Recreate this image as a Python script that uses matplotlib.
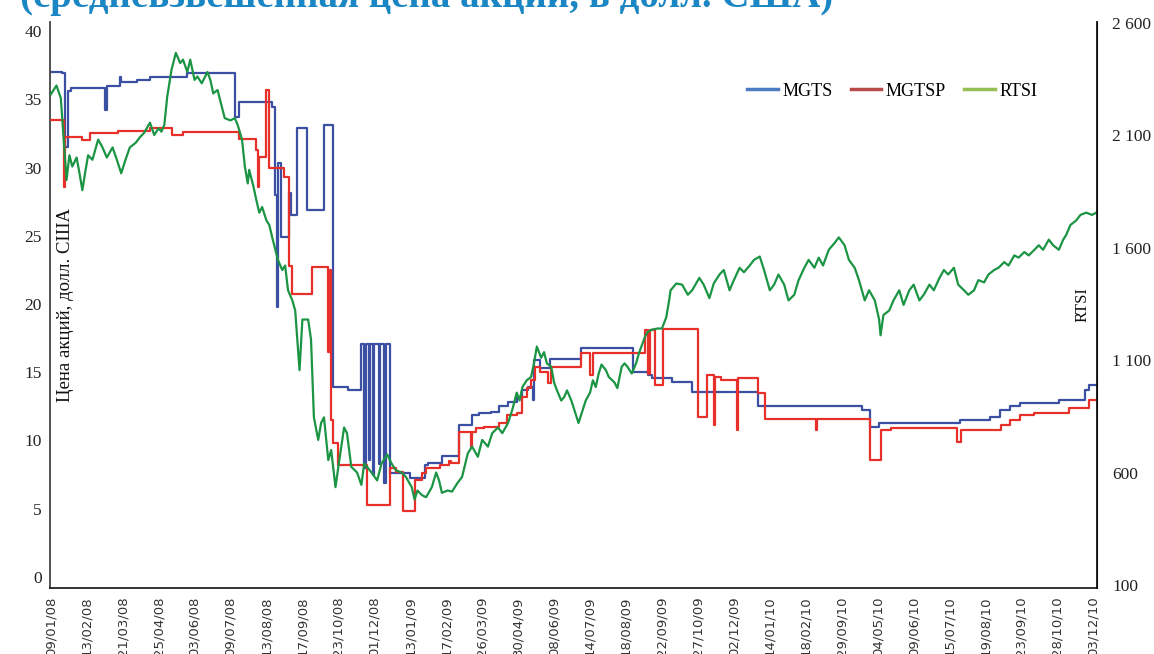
import numpy as np
import matplotlib
matplotlib.use("Agg")
import matplotlib.pyplot as plt
from matplotlib.lines import Line2D

# ---------------- data ----------------
x_labels = ["09/01/08", "13/02/08", "21/03/08", "25/04/08", "03/06/08", "09/07/08",
            "13/08/08", "17/09/08", "23/10/08", "01/12/08", "13/01/09", "17/02/09",
            "26/03/09", "30/04/09", "08/06/09", "14/07/09", "18/08/09", "22/09/09",
            "27/10/09", "02/12/09", "14/01/10", "18/02/10", "29/09/10", "04/05/10",
            "09/06/10", "15/07/10", "19/08/10", "23/09/10", "28/10/10", "03/12/10"]
label_step = 25          # trading days between labels
n_days = 728             # trading days in the period

# MGTS (left axis) - change points: trading-day index, price
mgts_idx = [0, 8, 10, 12, 14, 38, 39, 48, 49, 60, 69, 95, 128, 131, 154, 156, 157, 158,
            160, 166, 167, 171, 178, 190, 196, 207, 216, 218, 219, 221, 222, 224, 225,
            228, 229, 232, 233, 236, 250, 260, 262, 272, 284, 293, 298, 306, 312, 318,
            324, 328, 332, 335, 336, 340, 347, 369, 405, 415, 418, 432, 446, 492, 564,
            570, 576, 632, 653, 660, 667, 674, 701, 719, 722, 727]
mgts_val = [37.0, 36.9, 31.5, 35.6, 35.8, 34.2, 36.0, 36.6, 36.3, 36.4, 36.6, 36.9, 33.7,
            34.8, 34.4, 28.0, 19.8, 30.3, 24.9, 28.1, 26.5, 32.9, 26.9, 33.1, 13.9, 13.7,
            17.1, 8.0, 17.1, 8.6, 17.1, 7.5, 17.1, 8.3, 17.1, 6.9, 17.1, 7.6, 7.25, 8.2,
            8.35, 8.85, 11.1, 11.9, 12.0, 12.1, 12.5, 12.8, 13.2, 13.7, 13.9, 13.0, 15.9,
            15.3, 16.0, 16.8, 15.0, 14.8, 14.6, 14.3, 13.55, 12.5, 12.2, 11.0, 11.3, 11.5,
            11.7, 12.2, 12.5, 12.75, 13.0, 13.7, 14.1, 14.1]

# MGTSP (left axis) - change points
mgtsp_idx = [0, 9, 10, 22, 27, 47, 69, 84, 92, 131, 143, 144, 145, 150, 152, 162, 166,
             168, 182, 193, 194, 195, 196, 200, 220, 236, 240, 245, 253, 258, 261, 271,
             277, 278, 284, 292, 293, 296, 301, 312, 317, 324, 328, 331, 334, 337, 340,
             346, 348, 369, 375, 377, 413, 415, 417, 420, 426, 450, 456, 461, 462, 466,
             477, 478, 492, 497, 532, 533, 570, 577, 584, 630, 633, 661, 667, 674, 684,
             708, 722, 727]
mgtsp_val = [33.5, 28.6, 32.2, 32.0, 32.5, 32.7, 32.9, 32.4, 32.6, 32.1, 31.3, 28.6, 30.8,
             35.7, 30.0, 29.3, 22.8, 20.7, 22.7, 16.5, 22.5, 11.5, 9.8, 8.2, 5.3, 8.0, 7.7,
             4.8, 7.1, 7.6, 8.0, 8.2, 8.5, 8.35, 10.6, 9.5, 10.6, 10.9, 11.0, 11.3, 11.9,
             12.0, 13.2, 13.85, 14.4, 15.4, 15.0, 14.2, 15.4, 16.4, 14.8, 16.4, 18.1, 14.9,
             18.1, 14.1, 18.2, 11.7, 14.8, 11.1, 14.65, 14.4, 10.8, 14.6, 13.5, 11.6, 10.8,
             11.6, 8.6, 10.8, 10.9, 9.9, 10.8, 11.1, 11.5, 11.9, 12.0, 12.4, 13.0, 13.0]

# RTSI (right axis)
rtsi_idx = [0, 4, 7, 9, 11, 13, 15, 18, 20, 22, 24, 26, 29, 31, 33, 36, 39, 43, 46, 49,
            52, 55, 59, 62, 65, 69, 72, 75, 77, 79, 81, 84, 87, 90, 92, 95, 97, 100, 102,
            105, 109, 111, 113, 116, 119, 121, 125, 128, 130, 133, 135, 137, 138, 141, 143,
            145, 147, 150, 152, 154, 158, 161, 163, 165, 168, 170, 172, 173, 175, 179, 181,
            183, 186, 188, 190, 193, 195, 198, 201, 204, 206, 209, 213, 216, 218, 220, 223,
            227, 230, 234, 237, 240, 244, 247, 251, 253, 255, 258, 261, 265, 268, 270, 272,
            276, 279, 283, 286, 290, 293, 297, 300, 304, 307, 311, 314, 318, 321, 324, 326,
            328, 331, 334, 336, 338, 341, 343, 345, 348, 350, 352, 355, 357, 359, 362, 364,
            367, 370, 372, 375, 377, 379, 381, 383, 386, 388, 392, 394, 397, 399, 401, 404,
            407, 409, 413, 415, 418, 422, 425, 428, 430, 431, 435, 439, 443, 446, 451, 454,
            458, 461, 465, 468, 472, 475, 479, 482, 486, 489, 493, 496, 500, 503, 506, 510,
            513, 517, 520, 524, 527, 531, 534, 537, 541, 545, 548, 552, 555, 559, 562, 566,
            569, 573, 576, 577, 579, 583, 586, 590, 593, 597, 600, 604, 607, 611, 614, 618,
            621, 624, 628, 631, 635, 638, 642, 645, 649, 652, 656, 659, 663, 666, 670, 673,
            677, 680, 684, 687, 690, 694, 697, 701, 704, 706, 709, 713, 716, 720, 724, 727]
rtsi_val = [2280, 2320, 2265, 2080, 1900, 2010, 1960, 2000, 1930, 1855, 1935, 2010, 1990,
            2035, 2080, 2045, 2000, 2045, 1990, 1930, 1990, 2045, 2065, 2090, 2110, 2155,
            2100, 2130, 2115, 2145, 2270, 2390, 2465, 2420, 2435, 2380, 2435, 2345, 2360,
            2330, 2380, 2345, 2285, 2300, 2225, 2175, 2165, 2175, 2145, 2080, 1960, 1885,
            1945, 1870, 1810, 1755, 1780, 1720, 1700, 1645, 1545, 1500, 1520, 1410, 1365,
            1320, 1145, 1055, 1280, 1280, 1190, 845, 745, 820, 845, 655, 700, 535, 670, 800,
            775, 625, 600, 545, 640, 625, 600, 565, 640, 680, 640, 610, 600, 580, 535, 480,
            520, 500, 490, 535, 600, 565, 510, 520, 515, 555, 580, 685, 715, 670, 745, 715,
            775, 800, 775, 820, 880, 955, 920, 980, 1010, 1025, 1085, 1160, 1110, 1135, 1085,
            1070, 1000, 965, 920, 935, 965, 920, 880, 820, 880, 920, 955, 1010, 980, 1040,
            1080, 1055, 1025, 1000, 975, 1070, 1085, 1070, 1040, 1085, 1130, 1200, 1225,
            1235, 1240, 1240, 1290, 1365, 1410, 1440, 1435, 1390, 1410, 1465, 1435, 1375,
            1440, 1480, 1500, 1410, 1455, 1510, 1490, 1520, 1545, 1560, 1500, 1410, 1435,
            1480, 1435, 1365, 1390, 1455, 1510, 1545, 1510, 1555, 1520, 1590, 1620, 1645,
            1610, 1545, 1510, 1455, 1365, 1410, 1365, 1280, 1210, 1300, 1320, 1365, 1410,
            1345, 1410, 1435, 1365, 1390, 1435, 1410, 1465, 1500, 1480, 1510, 1435, 1410,
            1390, 1410, 1455, 1445, 1480, 1500, 1510, 1535, 1520, 1565, 1555, 1580, 1565,
            1590, 1610, 1590, 1635, 1610, 1590, 1635, 1655, 1700, 1720, 1745, 1755, 1745,
            1755]

left_ticks = [0, 5, 10, 15, 20, 25, 30, 35, 40]
right_ticks = [100, 600, 1100, 1600, 2100, 2600]

title_text = "(средневзвешенная цена акций, в долл. США)"
ylabel_left = "Цена акций, долл. США"
ylabel_right = "RTSI"

# ---------------- style ----------------
C_MGTS, C_MGTSP, C_RTSI = "#3b4fa3", "#e8302a", "#1b9444"
LEG_COLORS = ["#4a7cc2", "#b84a48", "#93bf55"]
SERIF = ["Liberation Serif", "DejaVu Serif"]

W, H = 1154, 654
fig = plt.figure(figsize=(W / 100, H / 100), dpi=100)
ax_l, ax_r, ax_b, ax_t = 50, 1097, 588, 22.3
ax = fig.add_axes([ax_l / W, 1 - ax_b / H, (ax_r - ax_l) / W, (ax_b - ax_t) / H])
ax2 = ax.twinx()

ax.plot(mgts_idx, mgts_val, drawstyle="steps-post", color=C_MGTS, lw=1.6, zorder=2)
ax.plot(mgtsp_idx, mgtsp_val, drawstyle="steps-post", color=C_MGTSP, lw=1.6, zorder=3)
ax2.plot(rtsi_idx, rtsi_val, color=C_RTSI, lw=1.6)

ax.set_xlim(-0.5, n_days - 0.5)
ax.set_ylim(-0.81, 40.64)
ax2.set_ylim(86.7, 2601)

ax.set_xticks(np.arange(len(x_labels)) * label_step)
ax.set_xticklabels(x_labels, rotation=90, fontsize=9.5, color="#333333",
                   family="DejaVu Sans")
ax.set_yticks(left_ticks)
ax.set_yticklabels([str(t) for t in left_ticks], fontsize=12.5, family=SERIF,
                   color="#222222")
ax2.set_yticks(right_ticks)
ax2.set_yticklabels([f"{t:,}".replace(",", " ") for t in right_ticks], fontsize=12.5,
                    family=SERIF, color="#222222")
ax.tick_params(axis="x", length=0, pad=6)
ax.tick_params(axis="y", length=0, pad=6)
ax2.tick_params(axis="y", length=0, pad=11)

for a in (ax, ax2):
    a.spines["top"].set_visible(False)
ax.spines["left"].set_color("#444444")
ax.spines["left"].set_linewidth(1.3)
ax.spines["bottom"].set_color("#222222")
ax.spines["bottom"].set_linewidth(1.3)
ax2.spines["right"].set_color("#111111")
ax2.spines["right"].set_linewidth(1.3)
ax2.spines["left"].set_visible(False)
ax2.spines["bottom"].set_visible(False)

fig.text(66 / W, 1 - 305 / H, ylabel_left, rotation=90, ha="center", va="center",
         fontsize=13.5, family=SERIF, color="#111111")
fig.text(1083 / W, 1 - 305 / H, ylabel_right, rotation=90, ha="center", va="center",
         fontsize=12, family=SERIF, color="#111111")

handles = [Line2D([], [], color=c, lw=2.5) for c in LEG_COLORS]
fig.legend(handles, ["MGTS", "MGTSP", "RTSI"], loc="center left",
           bbox_to_anchor=(747 / W, 1 - 91 / H), ncol=3, frameon=False,
           prop={"family": SERIF, "size": 13}, handlelength=1.7, handletextpad=0.25,
           columnspacing=1.0, borderpad=0, borderaxespad=0)

fig.text(20 / W, 1 - 7 / H, title_text, ha="left", va="baseline", fontsize=28,
         fontweight="bold", family=SERIF, color="#1a86c4")

fig.savefig("out.png", dpi=100)
